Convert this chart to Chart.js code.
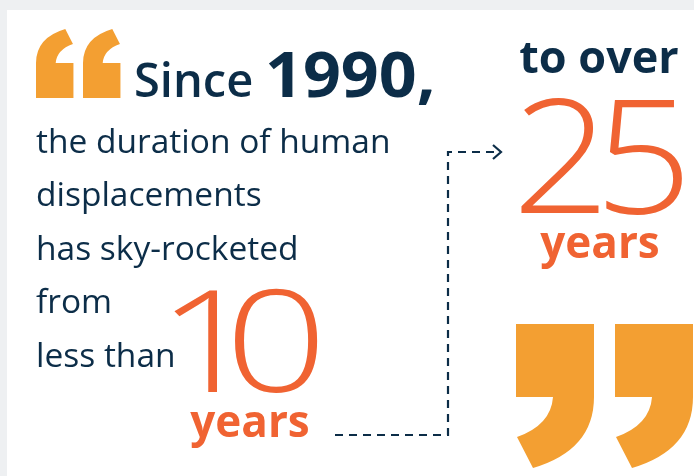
<!DOCTYPE html>
<html>
<head>
<meta charset="utf-8">
<script src="https://cdn.jsdelivr.net/npm/chart.js@4/dist/chart.umd.min.js"></script>
<style>
  html, body { margin: 0; padding: 0; background: #eef0f2; }
  #wrap { width: 694px; height: 476px; position: relative; }
</style>
</head>
<body>
<div id="wrap"><canvas id="quoteChart"></canvas></div>
<script>
// DATA
const sinceWord = "Since";
const sinceYear = "1990,";
const bodyLines = ["the duration of human", "displacements", "has sky-rocketed", "from", "less than"];
const durationValues = [10, 25];
const durationUnit = "years";
const toOverLabel = "to over";

const NAVY = "#0c2d48";
const ORANGE = "#f06332";
const QUOTE = "#f39f32";
const FONT = "'Open Sans', 'DejaVu Sans', sans-serif";

// closing quote glyph, box 78 x 144
const quoteGlyph = (ctx) => {
  ctx.beginPath();
  ctx.moveTo(0, 0);
  ctx.lineTo(78, 0);
  ctx.lineTo(78, 73);
  ctx.quadraticCurveTo(78, 126, 17, 144);
  ctx.lineTo(1, 113);
  ctx.quadraticCurveTo(35, 101, 37, 73);
  ctx.lineTo(0, 73);
  ctx.closePath();
  ctx.fill();
};

const drawQuote = (ctx, x, y, scale, flip) => {
  ctx.save();
  ctx.fillStyle = QUOTE;
  if (flip) {
    ctx.translate(x + 78 * scale, y + 144 * scale);
    ctx.rotate(Math.PI);
  } else {
    ctx.translate(x, y);
  }
  ctx.scale(scale, scale);
  quoteGlyph(ctx);
  ctx.restore();
};

// draw a string char by char, stretched wider, left edge at x
const drawWide = (ctx, text, x, y, stretch, spacing) => {
  let cx = x;
  for (const ch of text) {
    ctx.save();
    ctx.translate(cx, y);
    ctx.scale(stretch, 1);
    ctx.fillText(ch, 0, 0);
    ctx.restore();
    cx += ctx.measureText(ch).width * stretch + spacing;
  }
};

const infographicPlugin = {
  id: 'infographic',
  beforeDraw(chart) {
    const ctx = chart.ctx;
    ctx.save();
    ctx.fillStyle = "#eef0f2";
    ctx.fillRect(0, 0, chart.width, chart.height);
    ctx.fillStyle = "#ffffff";
    ctx.fillRect(7, 10, chart.width - 7, chart.height - 10);
    ctx.restore();
  },
  afterDraw(chart) {
    const ctx = chart.ctx;
    ctx.save();
    ctx.textBaseline = "alphabetic";
    ctx.textAlign = "left";

    // quotes
    drawQuote(ctx, 36, 29, 0.48, true);
    drawQuote(ctx, 83, 29, 0.48, true);
    drawQuote(ctx, 516, 324, 1, false);
    drawQuote(ctx, 615, 324, 1, false);

    // headline
    ctx.fillStyle = NAVY;
    ctx.font = `600 47px ${FONT}`;
    ctx.fillText(sinceWord, 134, 97);
    ctx.font = `700 62px ${FONT}`;
    drawWide(ctx, sinceYear, 265, 97, 1.07, 0);

    // body
    ctx.font = `400 33.5px ${FONT}`;
    const baselines = [153, 206, 260, 313, 367];
    bodyLines.forEach((line, i) => ctx.fillText(line, 36, baselines[i]));

    // from value
    ctx.fillStyle = ORANGE;
    ctx.font = `300 143px ${FONT}`;
    drawWide(ctx, String(durationValues[0]), 157, 392, 1.26, -35);
    ctx.textAlign = "center";
    ctx.font = `700 44px ${FONT}`;
    ctx.fillText(durationUnit, 250, 437);

    // to value
    ctx.fillStyle = NAVY;
    ctx.font = `700 45px ${FONT}`;
    ctx.fillText(toOverLabel, 599, 73);
    ctx.fillStyle = ORANGE;
    ctx.textAlign = "left";
    ctx.font = `300 158px ${FONT}`;
    drawWide(ctx, String(durationValues[1]), 512, 213, 1.09, -16);
    ctx.textAlign = "center";
    ctx.font = `700 44px ${FONT}`;
    ctx.fillText(durationUnit, 600, 258);

    // dashed connector
    ctx.strokeStyle = NAVY;
    ctx.lineWidth = 2.2;
    ctx.setLineDash([8, 6]);
    ctx.beginPath();
    ctx.moveTo(335, 435);
    ctx.lineTo(448, 435);
    ctx.lineTo(448, 152);
    ctx.lineTo(496, 152);
    ctx.stroke();
    ctx.setLineDash([]);
    ctx.beginPath();
    ctx.moveTo(493, 145);
    ctx.lineTo(501, 152);
    ctx.lineTo(493, 159);
    ctx.stroke();

    ctx.restore();
  }
};

new Chart(document.getElementById('quoteChart').getContext('2d'), {
  type: 'scatter',
  data: { datasets: [] },
  options: {
    responsive: true,
    maintainAspectRatio: false,
    animation: false,
    plugins: { legend: { display: false }, tooltip: { enabled: false } },
    scales: { x: { display: false }, y: { display: false } }
  },
  plugins: [infographicPlugin]
});
</script>
</body>
</html>
